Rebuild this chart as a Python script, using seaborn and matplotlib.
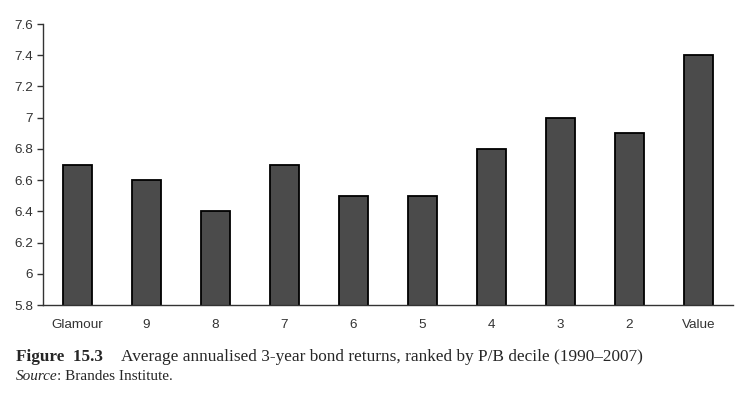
import matplotlib
matplotlib.use("Agg")
import matplotlib.pyplot as plt
import numpy as np
import pandas as pd
import seaborn as sns

# ---------------- data ----------------
deciles = ["Glamour", "9", "8", "7", "6", "5", "4", "3", "2", "Value"]
returns = [6.7, 6.6, 6.4, 6.7, 6.5, 6.5, 6.8, 7.0, 6.9, 7.4]
y_ticks = [5.8, 6.0, 6.2, 6.4, 6.6, 6.8, 7.0, 7.2, 7.4, 7.6]
y_tick_labels = ["5.8", "6", "6.2", "6.4", "6.6", "6.8", "7", "7.2", "7.4", "7.6"]

df = pd.DataFrame({"decile": deciles, "ret": returns})

sns.set_style("white")
plt.rcParams["font.family"] = ["Liberation Sans", "DejaVu Sans"]

fig = plt.figure(figsize=(7.52, 3.97), dpi=100)
ax = fig.add_axes([0.0572, 0.2317, 0.9175, 0.7078])

sns.barplot(x="decile", y="ret", data=df, color="#4b4b4b", edgecolor="black",
            linewidth=1.3, width=0.42, saturation=1, ax=ax)

ax.set_ylim(5.8, 7.6)
ax.set_xlim(-0.5, len(deciles) - 0.5)
ax.set_yticks(y_ticks)
ax.set_yticklabels(y_tick_labels, fontsize=9.7, color="#333333")
ax.set_xticks(range(len(deciles)))
ax.set_xticklabels(deciles, fontsize=9.7, color="#333333")
ax.set_xticks(np.arange(-0.5, len(deciles)), minor=True)
ax.tick_params(axis="x", which="major", length=0, pad=10)
ax.tick_params(axis="x", which="minor", length=4, width=1, color="#333333", direction="out")
ax.tick_params(axis="y", length=4, width=1, color="#333333", direction="out", pad=3)
ax.tick_params(bottom=True, left=True)
ax.set_xlabel("")
ax.set_ylabel("")
sns.despine(ax=ax)
for s in ["left", "bottom"]:
    ax.spines[s].set_color("#333333")
    ax.spines[s].set_linewidth(1)

# caption
fig.text(0.021, 1 - 357 / 397, "Figure  15.3", fontsize=12.3, fontweight="bold",
         family="Liberation Serif", va="center", ha="left")
fig.text(0.161, 1 - 357 / 397,
         "Average annualised 3-year bond returns, ranked by P/B decile (1990\u20132007)",
         fontsize=12.4, family="Liberation Serif", va="center", ha="left")
src = fig.text(0.021, 1 - 376 / 397, "Source", fontsize=11, style="italic",
               family="Liberation Serif", va="center", ha="left")
fig.canvas.draw()
bb = src.get_window_extent()
fig.text(bb.x1 / fig.bbox.width, 1 - 376 / 397, ": Brandes Institute.", fontsize=11,
         family="Liberation Serif", va="center", ha="left")

plt.savefig("out.png", dpi=100)
